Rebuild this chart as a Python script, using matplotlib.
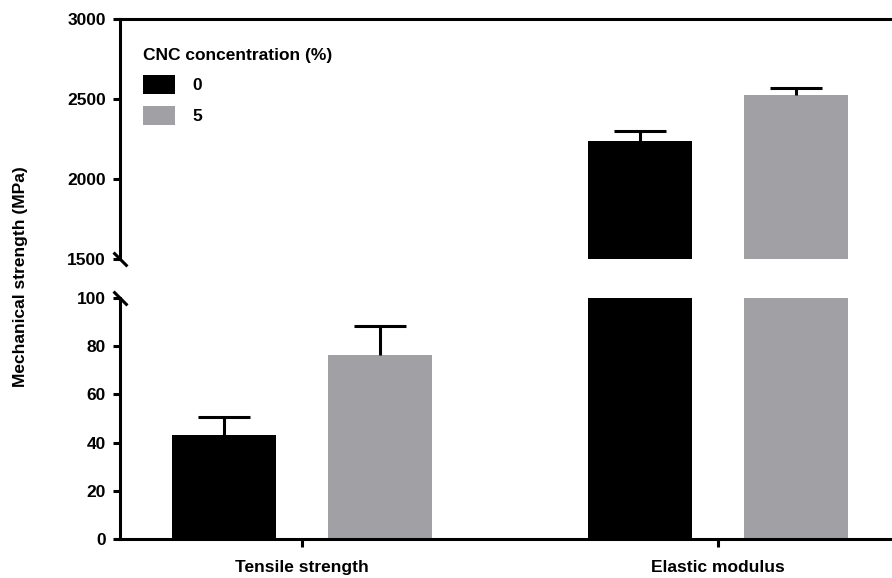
import numpy as np
import matplotlib.pyplot as plt

plt.rcParams['font.family'] = ['Liberation Sans', 'DejaVu Sans']
plt.rcParams['font.weight'] = 'bold'

# data
groups = ["Tensile strength", "Elastic modulus"]
cnc_levels = ["0", "5"]
means_0 = [43, 2237]
means_5 = [76.3, 2525]
err_0 = [7.5, 62]
err_5 = [12, 45]

colors = ["#000000", "#a1a1a5"]
x = np.arange(len(groups))
width = 0.25
offset = 0.1875

fig = plt.figure(figsize=(8.92, 5.78), dpi=100)
ax_top = fig.add_axes([0.1345, 0.552, 0.8655, 0.415])
ax_bot = fig.add_axes([0.1345, 0.0675, 0.8655, 0.417])

for ax in (ax_top, ax_bot):
    for vals, errs, c, off, lab in [(means_0, err_0, colors[0], -offset, cnc_levels[0]),
                                    (means_5, err_5, colors[1], offset, cnc_levels[1])]:
        ax.bar(x + off, vals, width, color=c, label=lab, zorder=2)
        eb = ax.errorbar(x + off, vals, yerr=[np.zeros(len(errs)), errs], fmt='none',
                         ecolor='black', elinewidth=2.2, capsize=18.7, capthick=2.2,
                         zorder=3)
        # only the upper cap is shown
        eb[1][0].set_visible(False)
    ax.set_xlim(-0.4375, 1.418)
    ax.spines['right'].set_visible(False)
    for s in ax.spines.values():
        s.set_linewidth(2.2)
    ax.tick_params(axis='both', width=2.2, length=5, pad=5, labelsize=12.5)

ax_top.set_ylim(1500, 3000)
ax_top.set_yticks([1500, 2000, 2500, 3000])
ax_top.spines['bottom'].set_visible(False)
ax_top.set_xticks([])

ax_bot.set_ylim(0, 100)
ax_bot.set_yticks([0, 20, 40, 60, 80, 100])
ax_bot.spines['top'].set_visible(False)
ax_bot.set_xticks(x)
ax_bot.set_xticklabels(groups, fontsize=12.5, fontweight='bold')
ax_bot.tick_params(axis='x', length=6, pad=9)

# break marks on the left spine
mark = dict(marker=[(-1, 1), (1, -1)], markersize=10, mew=2.2, color='k',
            linestyle='none', clip_on=False)
ax_top.plot([0], [0], transform=ax_top.transAxes, **mark)
ax_bot.plot([0], [1], transform=ax_bot.transAxes, **mark)

fig.text(0.023, 0.522, "Mechanical strength (MPa)", rotation=90, ha='center', va='center',
         fontsize=12.5, fontweight='bold')

leg = ax_top.legend(title="CNC concentration (%)", loc='upper left',
                    bbox_to_anchor=(0.01, 0.945), frameon=False, fontsize=12.5,
                    title_fontproperties={'weight': 'bold', 'size': 12.5},
                    handlelength=1.85, handleheight=1.3, alignment='left',
                    labelspacing=0.7, handletextpad=1.0)

fig.savefig("out.png", dpi=100)
